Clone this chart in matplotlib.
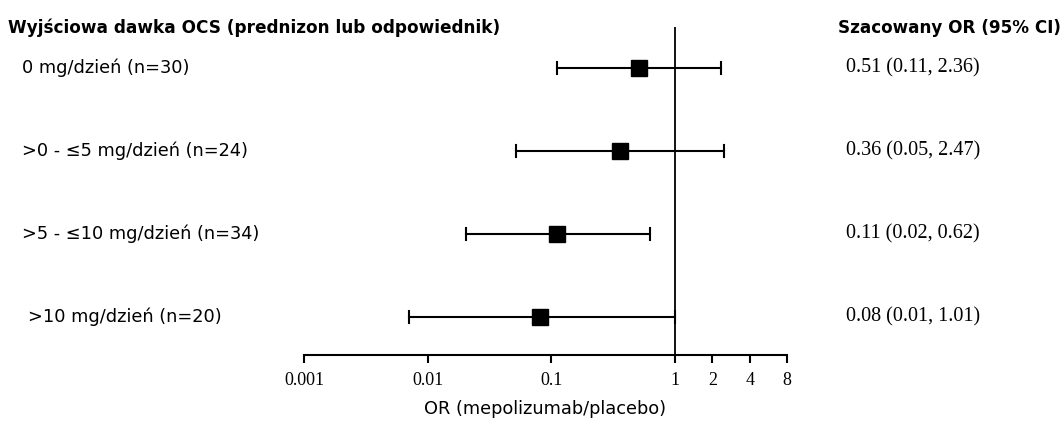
import matplotlib.pyplot as plt

labels = ["0 mg/dzień (n=30)", ">0 - \u22645 mg/dzień (n=24)",
          ">5 - \u226410 mg/dzień (n=34)", ">10 mg/dzień (n=20)"]
or_est = [0.51, 0.36, 0.11, 0.08]
ci_low = [0.11, 0.052, 0.0205, 0.007]
ci_high = [2.36, 2.47, 0.62, 1.0]
or_text = ["0.51 (0.11, 2.36)", "0.36 (0.05, 2.47)",
           "0.11 (0.02, 0.62)", "0.08 (0.01, 1.01)"]
ticks = [0.001, 0.01, 0.1, 1, 2, 4, 8]
tick_labels = ["0.001", "0.01", "0.1", "1", "2", "4", "8"]

sans = ["DejaVu Sans"]
serif = ["Liberation Serif", "DejaVu Serif"]

fig = plt.figure(figsize=(10.62, 4.21), dpi=100)
ax = fig.add_axes([0.2863, 0.1568, 0.741 - 0.2863, 0.936 - 0.1568])

rows = list(range(len(labels)))
for i in rows:
    ax.plot([ci_low[i], ci_high[i]], [i, i], color="black", lw=1.5)
    ax.plot([ci_low[i]] * 2, [i - 0.07, i + 0.07], color="black", lw=1.5)
    ax.plot([ci_high[i]] * 2, [i - 0.07, i + 0.07], color="black", lw=1.5)
    ax.plot(or_est[i], i, marker="s", ms=11, color="black", ls="none")

ax.axvline(1, color="black", lw=1.3)
ax.set_xscale("log")
ax.set_xlim(0.001, 8)
ax.set_ylim(3.458, -0.494)
ax.set_xticks(ticks)
ax.set_xticklabels(tick_labels, family=serif, fontsize=13)
ax.minorticks_off()
ax.set_yticks([])
for s in ["top", "right", "left"]:
    ax.spines[s].set_visible(False)
ax.spines["bottom"].set_linewidth(1.5)
ax.tick_params(axis="x", length=6, width=1.5, pad=6)
ax.set_xlabel("OR (mepolizumab/placebo)", family=sans, fontsize=12.8, labelpad=8)

# lewa kolumna i naglowki
for i in rows:
    y = 1 - (68 + 83 * i) / 421
    x = 22 if i < 3 else 28
    fig.text(x / 1062, y, labels[i], family=sans, fontsize=12.8, va="center")
    fig.text(846 / 1062, y, or_text[i], family=serif, fontsize=14.5, va="center")

fig.text(8 / 1062, 1 - 28 / 421, "Wyjściowa dawka OCS (prednizon lub odpowiednik)",
         family=sans, fontsize=12.2, fontweight="bold", va="center")
fig.text(838 / 1062, 1 - 28 / 421, "Szacowany OR (95% CI)",
         family=sans, fontsize=12.1, fontweight="bold", va="center")

fig.savefig("out.png", dpi=100)
